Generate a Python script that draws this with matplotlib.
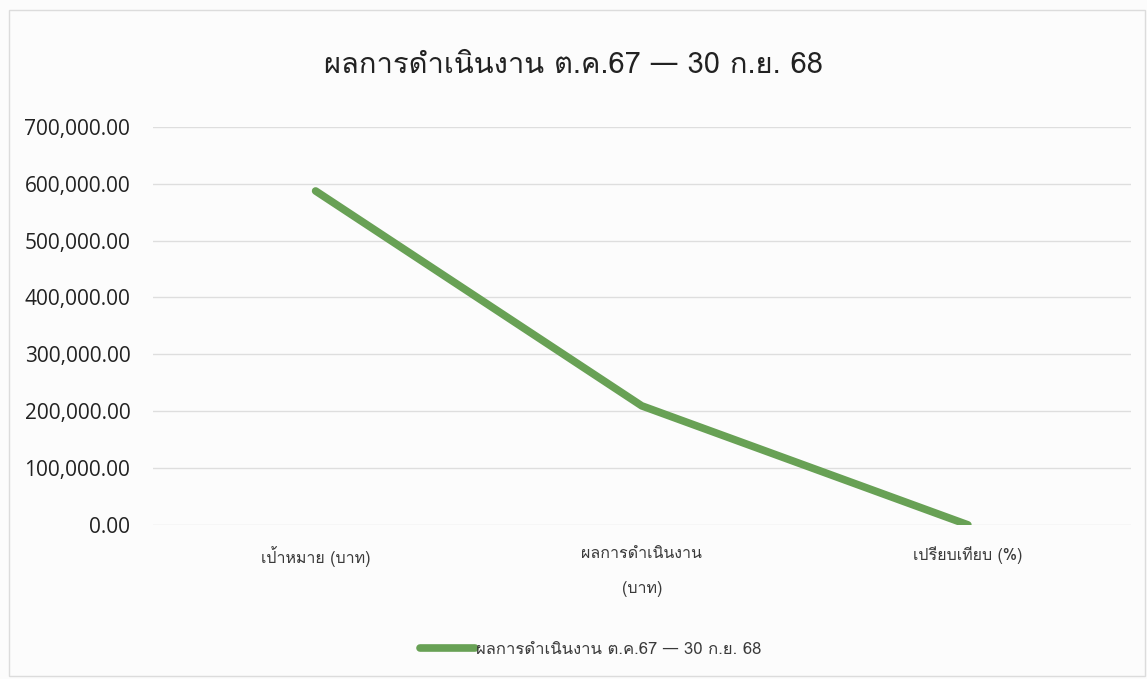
import matplotlib
matplotlib.use("Agg")
import matplotlib.pyplot as plt
from matplotlib import font_manager
from matplotlib.ft2font import FT2Font
from matplotlib.patches import Rectangle

categories = ["เป้าหมาย (บาท)", "ผลการดำเนินงาน\n(บาท)", "เปรียบเทียบ (%)"]
values = [587400.00, 209400.00, 35.65]
series_name = "ผลการดำเนินงาน ต.ค.67 — 30 ก.ย. 68"
title = "ผลการดำเนินงาน ต.ค.67 — 30 ก.ย. 68"
y_ticks = [0, 100000, 200000, 300000, 400000, 500000, 600000, 700000]


def thai_families():
    # collect installed families that actually carry Thai glyphs
    found = []
    for f in font_manager.fontManager.ttflist:
        try:
            cmap = FT2Font(f.fname).get_charmap()
        except Exception:
            continue
        if 0x0E01 in cmap and f.name not in found:
            found.append(f.name)
    return found


thai = thai_families()
plt.rcParams["font.family"] = thai + ["DejaVu Sans"]

fig = plt.figure(figsize=(11.47, 6.79), dpi=100)
fig.patch.set_facecolor("#fcfcfc")
fig.add_artist(Rectangle((0.008, 0.005), 0.99, 0.98, transform=fig.transFigure,
                         fill=False, edgecolor="#dcdcdc", linewidth=1))

ax = fig.add_axes([0.133, 0.227, 0.853, 0.586])
ax.set_facecolor("#fcfcfc")

x = list(range(len(categories)))
ax.plot(x, values, color="#68a155", linewidth=5.5, solid_capstyle="round",
        solid_joinstyle="round", label=series_name, zorder=3)

ax.set_xlim(-0.5, len(categories) - 0.5)
ax.set_ylim(0, 700000)
ax.set_yticks(y_ticks)
ax.set_yticklabels([f"{v:,.2f}" for v in y_ticks], fontsize=15, color="#222222",
                   family=["Open Sans", "DejaVu Sans"])
ax.set_xticks(x)
ax.set_xticklabels(categories, fontsize=11.5, color="#3a3a3a", linespacing=2.6)
ax.tick_params(axis="x", length=0, pad=15)
ax.tick_params(axis="y", length=0, pad=16)
ax.yaxis.grid(True, color="#dedede", linewidth=1)
ax.set_axisbelow(True)
for s in ax.spines.values():
    s.set_visible(False)

fig.text(0.5, 0.905, title, ha="center", va="center", fontsize=21, color="#222222")

leg = fig.legend(loc="center", bbox_to_anchor=(0.515, 0.043), frameon=False,
                 fontsize=12, handlelength=3.3, handletextpad=0.1)
for t in leg.get_texts():
    t.set_color("#3a3a3a")

fig.savefig("out.png", dpi=100, facecolor=fig.get_facecolor())
